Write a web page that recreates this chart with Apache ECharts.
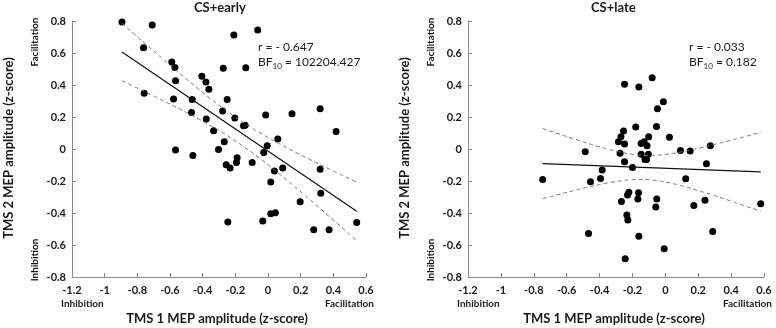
<!DOCTYPE html>
<html>
<head>
<meta charset="utf-8">
<script src="https://cdn.jsdelivr.net/npm/echarts@6/dist/echarts.min.js"></script>
<style>
    html, body { margin: 0; padding: 0; background: #fff; }
    #chart { width: 776px; height: 328px; }
</style>
</head>
<body>
<div id="chart"></div>
<script>
// CS+early: TMS 1 (x) vs TMS 2 (y)
var earlyX = [-0.894, -0.709, -0.762, -0.209, -0.063, -0.589, -0.570, -0.274, -0.136, -0.405,
    -0.380, -0.362, -0.566, -0.758, -0.578, -0.464, -0.250, -0.468, -0.278, -0.378,
    -0.203, -0.333, -0.150, -0.140, -0.014, 0.147, 0.319, 0.417, 0.060, -0.005,
    -0.566, -0.460, -0.303, -0.268, -0.189, -0.193, -0.097, -0.026, -0.256, -0.232,
    0.039, 0.090, 0.017, 0.319, 0.323, 0.197, 0.017, 0.045, -0.032, -0.246,
    0.280, 0.374, 0.543];
var earlyY = [0.794, 0.775, 0.633, 0.712, 0.744, 0.543, 0.510, 0.504, 0.508, 0.454,
    0.418, 0.374, 0.426, 0.349, 0.312, 0.310, 0.310, 0.228, 0.237, 0.187,
    0.193, 0.114, 0.145, 0.149, 0.212, 0.220, 0.251, 0.110, 0.062, 0.020,
    -0.007, -0.041, -0.003, 0.045, -0.055, -0.085, -0.085, -0.022, -0.099, -0.118,
    -0.137, -0.118, -0.206, -0.126, -0.276, -0.330, -0.405, -0.399, -0.450, -0.456,
    -0.504, -0.504, -0.460];

// CS+late
var lateX = [-0.746, -0.487, -0.455, -0.384, -0.394, -0.467, -0.248, -0.161, -0.080, -0.012,
    -0.048, -0.180, -0.054, -0.254, -0.270, -0.285, -0.248, -0.275, -0.248, -0.200,
    -0.147, -0.129, -0.101, -0.111, -0.147, -0.103, -0.124, -0.114, 0.025, 0.092,
    0.151, 0.274, 0.250, 0.124, 0.173, 0.241, 0.580, 0.288, -0.222, -0.230,
    -0.267, -0.163, -0.167, -0.052, -0.058, -0.234, -0.228, -0.161, -0.007, -0.244];
var lateY = [-0.190, -0.017, -0.204, -0.131, -0.184, -0.528, 0.405, 0.388, 0.446, 0.296,
    0.252, 0.138, 0.140, 0.113, 0.077, 0.046, 0.031, -0.027, -0.079, -0.115,
    0.035, 0.046, 0.077, 0.021, -0.033, -0.033, -0.065, -0.065, 0.073, -0.010,
    -0.013, 0.021, -0.092, -0.186, -0.353, -0.321, -0.342, -0.515, -0.271, -0.288,
    -0.328, -0.273, -0.313, -0.313, -0.363, -0.413, -0.444, -0.545, -0.624, -0.686];

var panelTitles = ['CS+early', 'CS+late'];
var corrText = ['r = - 0.647', 'r = - 0.033'];
var bfText = ['102204.427', '0.182'];

var xTicks = { min: -1.2, max: 0.6, interval: 0.2 };
var yTicks = { min: -0.8, max: 0.8, interval: 0.2 };

// linear fit + 95% confidence band of the mean
function fitBand(xs, ys) {
    var n = xs.length, mx = 0, my = 0, sxx = 0, sxy = 0, sse = 0, i;
    for (i = 0; i < n; i++) { mx += xs[i]; my += ys[i]; }
    mx /= n; my /= n;
    for (i = 0; i < n; i++) {
        sxx += (xs[i] - mx) * (xs[i] - mx);
        sxy += (xs[i] - mx) * (ys[i] - my);
    }
    var b = sxy / sxx, a = my - b * mx;
    for (i = 0; i < n; i++) {
        var e = ys[i] - (a + b * xs[i]);
        sse += e * e;
    }
    var s = Math.sqrt(sse / (n - 2)), t = 2.01;
    var lo = Math.min.apply(null, xs), hi = Math.max.apply(null, xs);
    var line = [[lo, a + b * lo], [hi, a + b * hi]], up = [], dn = [];
    for (i = 0; i <= 40; i++) {
        var x = lo + (hi - lo) * i / 40;
        var y = a + b * x;
        var h = t * s * Math.sqrt(1 / n + (x - mx) * (x - mx) / sxx);
        up.push([x, y + h]);
        dn.push([x, y - h]);
    }
    return { line: line, up: up, dn: dn };
}

function zip(xs, ys) {
    return xs.map(function (x, i) { return [x, ys[i]]; });
}

var font = 'Lato, "Open Sans", sans-serif';
var grids = [
    { left: 72, top: 21, width: 294, height: 256 },
    { left: 468, top: 21, width: 296, height: 256 }
];

var axisCommon = {
    axisLine: { onZero: false, lineStyle: { color: '#8a8a8a', width: 1 } },
    axisTick: { inside: true, length: 4, lineStyle: { color: '#8a8a8a' } },
    splitLine: { show: false },
    axisLabel: { color: '#1a1a1a', fontSize: 11, fontWeight: 'bold', fontFamily: font }
};

function axis(idx, ticks, extra) {
    return Object.assign({ type: 'value', gridIndex: idx }, ticks, axisCommon, extra);
}

var series = [];
[[earlyX, earlyY], [lateX, lateY]].forEach(function (d, k) {
    var f = fitBand(d[0], d[1]);
    var dash = { color: '#707070', width: 1, type: [4, 3] };
    series.push({ type: 'line', xAxisIndex: k, yAxisIndex: k, data: f.up, showSymbol: false, smooth: true, lineStyle: dash, silent: true });
    series.push({ type: 'line', xAxisIndex: k, yAxisIndex: k, data: f.dn, showSymbol: false, smooth: true, lineStyle: dash, silent: true });
    series.push({ type: 'line', xAxisIndex: k, yAxisIndex: k, data: f.line, showSymbol: false, lineStyle: { color: '#111', width: 1.2 }, silent: true });
    series.push({ type: 'scatter', xAxisIndex: k, yAxisIndex: k, data: zip(d[0], d[1]), symbolSize: 7, itemStyle: { color: '#000', opacity: 1 } });
});

var graphics = [];
var boldText = { fill: '#1a1a1a', fontFamily: font, fontWeight: 'bold' };
grids.forEach(function (g, k) {
    var cx = g.left + g.width / 2;
    graphics.push({ type: 'text', left: cx - 25, top: 1, style: Object.assign({ text: panelTitles[k], fontSize: 13 }, boldText) });
    graphics.push({ type: 'text', x: g.left - 63, y: 148, rotation: Math.PI / 2, style: Object.assign({ text: 'TMS 2 MEP amplitude (z-score)', fontSize: 13, align: 'center', verticalAlign: 'middle' }, boldText) });
    graphics.push({ type: 'text', x: g.left - 37, y: 42, rotation: Math.PI / 2, style: Object.assign({ text: 'Facilitation', fontSize: 10, align: 'center', verticalAlign: 'middle' }, boldText) });
    graphics.push({ type: 'text', x: g.left - 37, y: 260, rotation: Math.PI / 2, style: Object.assign({ text: 'Inhibition', fontSize: 10, align: 'center', verticalAlign: 'middle' }, boldText) });
    graphics.push({ type: 'text', x: g.left - 11, y: 304, style: Object.assign({ text: 'Inhibition', fontSize: 10, verticalAlign: 'middle' }, boldText) });
    graphics.push({ type: 'text', x: g.left + g.width + 8, y: 304, style: Object.assign({ text: 'Facilitation', fontSize: 10, align: 'right', verticalAlign: 'middle' }, boldText) });
    graphics.push({ type: 'text', x: cx - 2, y: 319, style: Object.assign({ text: 'TMS 1 MEP amplitude (z-score)', fontSize: 13, align: 'center', verticalAlign: 'middle' }, boldText) });
    graphics.push({
        type: 'text', x: g.left + (k === 0 ? 186 : 221), y: 40,
        style: {
            text: corrText[k] + '\n{a|BF}{s|10}{a| = ' + bfText[k] + '}',
            fill: '#1a1a1a', fontFamily: font, fontSize: 12, lineHeight: 15,
            rich: {
                a: { fontSize: 12, fill: '#1a1a1a', fontFamily: font, lineHeight: 15, verticalAlign: 'middle' },
                s: { fontSize: 8, fill: '#1a1a1a', fontFamily: font, lineHeight: 15, verticalAlign: 'bottom', padding: [6, 0, 0, 0] }
            }
        }
    });
});

var chart = echarts.init(document.getElementById('chart'));
chart.setOption({
    animation: false,
    grid: grids,
    xAxis: [axis(0, xTicks), axis(1, xTicks)],
    yAxis: [axis(0, yTicks, { axisLabel: Object.assign({}, axisCommon.axisLabel, { margin: 6 }) }),
            axis(1, yTicks, { axisLabel: Object.assign({}, axisCommon.axisLabel, { margin: 6 }) })],
    series: series,
    graphic: graphics
});
</script>
</body>
</html>
